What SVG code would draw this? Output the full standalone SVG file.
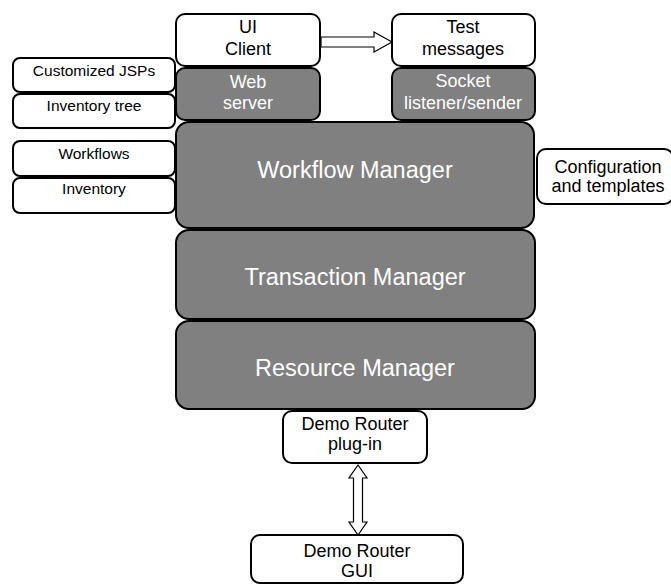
<svg xmlns="http://www.w3.org/2000/svg" width="671" height="585" viewBox="0 0 671 585">
<style>
.w{fill:#fff;stroke:#000;stroke-width:2}
.g{fill:#808080;stroke:#000;stroke-width:2}
text{font-family:"Liberation Sans",Arial,sans-serif;text-anchor:middle}
.s{font-size:15.5px;fill:#000}
.m{font-size:18px;fill:#000}
.mw{font-size:18px;fill:#fff}
.b{font-size:23.5px;fill:#fff}
.a{fill:#fff;stroke:#000;stroke-width:1.2}
</style>
<rect width="671" height="585" fill="#fff"/>
<g id="ui-client"><rect class="w" x="176" y="14" width="144" height="52" rx="9"/><text class="m" x="248" y="33">UI</text><text class="m" x="248" y="55">Client</text></g>
<g id="web-server"><rect class="g" x="176" y="68" width="144" height="52" rx="9"/><text class="mw" x="248" y="88">Web</text><text class="mw" x="248" y="109">server</text></g>
<g id="test-messages"><rect class="w" x="392" y="14" width="143" height="52" rx="9"/><text class="m" x="463" y="33">Test</text><text class="m" x="463" y="55">messages</text></g>
<g id="socket"><rect class="g" x="392" y="68" width="143" height="52" rx="9"/><text class="mw" x="463" y="87">Socket</text><text class="mw" x="463" y="109">listener/sender</text></g>
<g id="customized-jsps"><rect class="w" x="13" y="58" width="162" height="34" rx="7"/><text class="s" x="94" y="76">Customized JSPs</text></g>
<g id="inventory-tree"><rect class="w" x="13" y="94" width="162" height="34" rx="7"/><text class="s" x="94" y="111">Inventory tree</text></g>
<g id="workflows"><rect class="w" x="13" y="141" width="162" height="35" rx="7"/><text class="s" x="94" y="159">Workflows</text></g>
<g id="inventory"><rect class="w" x="13" y="178" width="162" height="35" rx="7"/><text class="s" x="94" y="194">Inventory</text></g>
<g id="workflow-manager"><rect class="g" x="176" y="122" width="358" height="106" rx="13"/><text class="b" x="355" y="178">Workflow Manager</text></g>
<g id="configuration"><rect class="w" x="537" y="149" width="136" height="55" rx="9"/><text class="m" x="608" y="173">Configuration</text><text class="m" x="608" y="192">and templates</text></g>
<g id="transaction-manager"><rect class="g" x="176" y="230" width="359" height="89" rx="13"/><text class="b" x="355" y="285">Transaction Manager</text></g>
<g id="resource-manager"><rect class="g" x="176" y="321" width="359" height="88" rx="13"/><text class="b" x="355" y="376">Resource Manager</text></g>
<g id="demo-plugin"><rect class="w" x="283" y="411" width="144" height="52" rx="9"/><text class="m" x="355" y="430">Demo Router</text><text class="m" x="355" y="450">plug-in</text></g>
<g id="demo-gui"><rect class="w" x="251" y="535" width="212" height="48" rx="9"/><text class="m" x="357" y="557">Demo Router</text><text class="m" x="357" y="577">GUI</text></g>
<g id="connectors">
<path class="a" d="M321,37 H374 V32 L392,42 L374,52 V47 H321 Z"/>
<path class="a" d="M358,465 L367,478 H362.5 V522 H367 L358,535 L349,522 H353.5 V478 H349 Z"/>
</g>
</svg>
